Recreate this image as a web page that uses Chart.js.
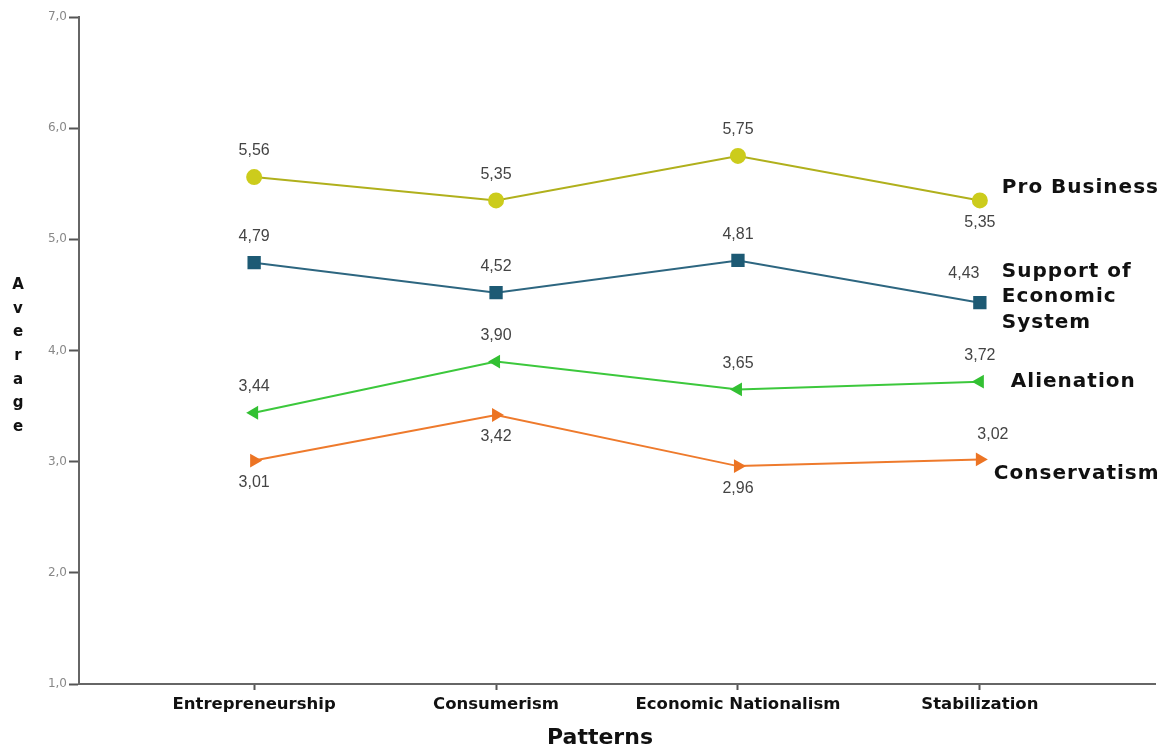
<!DOCTYPE html>
<html>
<head>
<meta charset="utf-8">
<script src="https://cdn.jsdelivr.net/npm/chart.js@4.4.1/dist/chart.umd.min.js"></script>
<style>
  html, body { margin: 0; padding: 0; background: #fff; }
  #wrap { width: 1175px; height: 753px; position: relative; }
</style>
</head>
<body>
<div id="wrap"><canvas id="c"></canvas></div>
<script>
// Patterns along the x axis
const categories = ['Entrepreneurship', 'Consumerism', 'Economic Nationalism', 'Stabilization'];

// Average score per pattern for each attitude
const proBusiness     = [5.56, 5.35, 5.75, 5.35];
const supportEconomic = [4.79, 4.52, 4.81, 4.43];
const alienation      = [3.44, 3.90, 3.65, 3.72];
const conservatism    = [3.01, 3.42, 2.96, 3.02];

// Series names written at the end of each line
const seriesNames = [['Pro Business'], ['Support of', 'Economic', 'System'], ['Alienation'], ['Conservatism']];

// Y axis ticks
const yTicks = [1, 2, 3, 4, 5, 6, 7];

const fmt = v => v.toFixed(2).replace('.', ',');
const toPoints = arr => arr.map((v, i) => ({ x: i, y: v }));

// Where each value label sits relative to its point
const labelSides = [
  ['up', 'up', 'up', 'down'],
  ['up', 'up', 'up', 'upleft'],
  ['up', 'up', 'up', 'up'],
  ['down', 'down', 'down', 'upright']
];

const valueLabels = {
  id: 'valueLabels',
  afterDatasetsDraw(chart) {
    const ctx = chart.ctx;
    ctx.save();
    ctx.font = '16px "Liberation Sans", Arial, sans-serif';
    ctx.fillStyle = '#444';
    ctx.textAlign = 'center';
    ctx.textBaseline = 'middle';
    chart.data.datasets.forEach((ds, di) => {
      const meta = chart.getDatasetMeta(di);
      meta.data.forEach((pt, i) => {
        const side = labelSides[di][i];
        let dx = 0, dy = -26;
        if (side === 'down') dy = 22;
        if (side === 'upleft') { dx = -16; dy = -29; }
        if (side === 'upright') { dx = 13; dy = -25; }
        ctx.fillText(fmt(ds.data[i].y), pt.x + dx, pt.y + dy);
      });
    });
    ctx.restore();
  }
};

const seriesTitles = {
  id: 'seriesTitles',
  afterDatasetsDraw(chart) {
    const ctx = chart.ctx;
    ctx.save();
    ctx.font = 'bold 20px "DejaVu Sans", Verdana, sans-serif';
    ctx.letterSpacing = '1px';
    ctx.fillStyle = '#111';
    ctx.textAlign = 'left';
    ctx.textBaseline = 'middle';
    const offs = [[22, -13], [22, -31], [31, 0], [14, 14]];
    chart.data.datasets.forEach((ds, di) => {
      const meta = chart.getDatasetMeta(di);
      const last = meta.data[meta.data.length - 1];
      seriesNames[di].forEach((line, li) => {
        ctx.fillText(line, last.x + offs[di][0], last.y + offs[di][1] + li * 25.5);
      });
    });
    ctx.restore();
  }
};

const axisTitles = {
  id: 'axisTitles',
  afterDraw(chart) {
    const ctx = chart.ctx;
    ctx.save();
    ctx.fillStyle = '#111';
    ctx.textAlign = 'center';
    ctx.textBaseline = 'middle';
    ctx.font = 'bold 22px "DejaVu Sans", Verdana, sans-serif';
    ctx.fillText('Patterns', 600, 738);
    ctx.font = 'bold 15px "DejaVu Sans", Verdana, sans-serif';
    const word = 'Average';
    for (let i = 0; i < word.length; i++) {
      ctx.fillText(word[i], 18, 285 + i * 23.7);
    }
    ctx.restore();
  }
};

new Chart(document.getElementById('c'), {
  type: 'line',
  data: {
    datasets: [
      {
        label: 'Pro Business',
        data: toPoints(proBusiness),
        borderColor: '#b0b01c',
        backgroundColor: '#cccc1c',
        pointBackgroundColor: '#cccc1c',
        pointBorderColor: '#cccc1c',
        pointStyle: 'circle',
        pointRadius: 7,
        borderWidth: 2
      },
      {
        label: 'Support of Economic System',
        data: toPoints(supportEconomic),
        borderColor: '#2d6680',
        backgroundColor: '#1d5a74',
        pointBackgroundColor: '#1d5a74',
        pointBorderColor: '#1d5a74',
        pointStyle: 'rect',
        pointRadius: 8,
        borderWidth: 2
      },
      {
        label: 'Alienation',
        data: toPoints(alienation),
        borderColor: '#3cc83c',
        backgroundColor: '#33c033',
        pointBackgroundColor: '#33c033',
        pointBorderColor: '#33c033',
        pointStyle: 'triangle',
        pointRotation: -90,
        pointRadius: 6,
        borderWidth: 2
      },
      {
        label: 'Conservatism',
        data: toPoints(conservatism),
        borderColor: '#ee7a2c',
        backgroundColor: '#ec7424',
        pointBackgroundColor: '#ec7424',
        pointBorderColor: '#ec7424',
        pointStyle: 'triangle',
        pointRotation: 90,
        pointRadius: 6,
        borderWidth: 2
      }
    ]
  },
  options: {
    responsive: true,
    maintainAspectRatio: false,
    animation: false,
    layout: { padding: { top: 17, right: 20, bottom: 0, left: 0 } },
    plugins: {
      legend: { display: false },
      tooltip: { enabled: false },
      title: { display: false }
    },
    scales: {
      x: {
        type: 'linear',
        min: -0.724,
        max: 3.724,
        afterBuildTicks(scale) {
          scale.ticks = categories.map((c, i) => ({ value: i }));
        },
        afterFit(scale) { scale.height = 69; },
        border: { color: '#666', width: 2 },
        grid: { drawOnChartArea: false, drawTicks: true, tickLength: 6, tickColor: '#555', tickWidth: 2 },
        ticks: {
          autoSkip: false,
          maxRotation: 0,
          padding: 5,
          color: '#111',
          font: { family: '"DejaVu Sans", Verdana, sans-serif', size: 16.5, weight: 'bold' },
          callback: v => categories[v]
        }
      },
      y: {
        min: 1,
        max: 7,
        afterBuildTicks(scale) {
          scale.ticks = yTicks.map(v => ({ value: v }));
        },
        afterFit(scale) { scale.width = 79; },
        border: { color: '#666', width: 2 },
        grid: { drawOnChartArea: false, drawTicks: true, tickLength: 10, tickColor: '#555', tickWidth: 2 },
        ticks: {
          padding: 2,
          color: '#888',
          font: { family: '"DejaVu Sans", Verdana, sans-serif', size: 12 },
          callback: v => v.toFixed(1).replace('.', ',')
        }
      }
    }
  },
  plugins: [valueLabels, seriesTitles, axisTitles]
});
</script>
</body>
</html>
